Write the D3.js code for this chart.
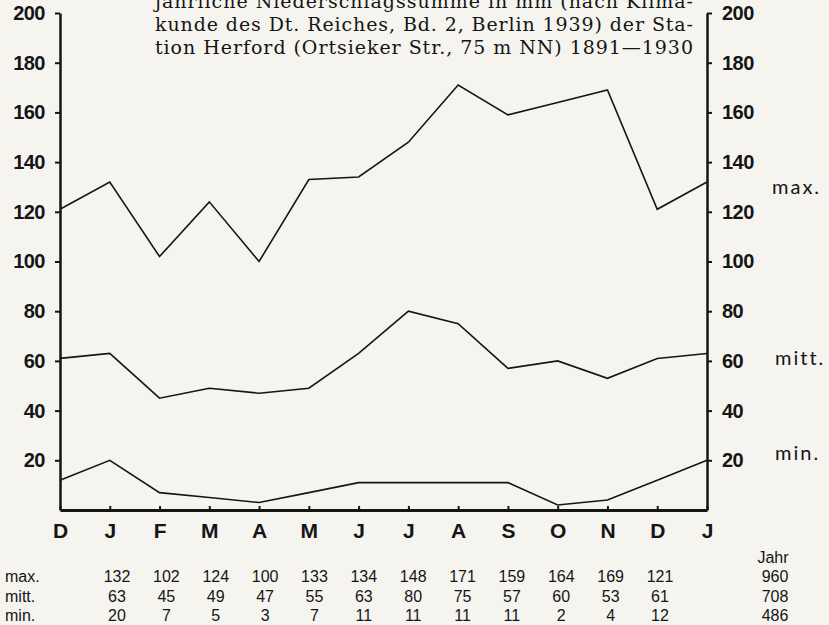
<!DOCTYPE html>
<html>
<head>
<meta charset="utf-8">
<script src="https://cdn.jsdelivr.net/npm/d3@7"></script>
<style>
  body { margin: 0; background: #f6f4ef; }
  svg { display: block; }
</style>
</head>
<body>
<svg></svg>
<script>
// month labels along the x axis (Dec .. Jan)
var months = ["D", "J", "F", "M", "A", "M", "J", "J", "A", "S", "O", "N", "D", "J"];
// curves as drawn in the picture
var lineMax  = [121, 132, 102, 124, 100, 133, 134, 148, 171, 159, 164, 169, 121, 132];
var lineMitt = [61, 63, 45, 49, 47, 49, 63, 80, 75, 57, 60, 53, 61, 63];
var lineMin  = [12, 20, 7, 5, 3, 7, 11, 11, 11, 11, 2, 4, 12, 20];
// table below the chart (Jan .. Dec, then year)
var rowNames = ["max.", "mitt.", "min."];
var tabMax  = [132, 102, 124, 100, 133, 134, 148, 171, 159, 164, 169, 121];
var tabMitt = [63, 45, 49, 47, 55, 63, 80, 75, 57, 60, 53, 61];
var tabMin  = [20, 7, 5, 3, 7, 11, 11, 11, 11, 2, 4, 12];
var jahr = [960, 708, 486];
var yTicks = [20, 40, 60, 80, 100, 120, 140, 160, 180, 200];
var titleLines = [
  "jährliche Niederschlagssumme in mm (nach Klima-",
  "kunde des Dt. Reiches, Bd. 2, Berlin 1939) der Sta-",
  "tion Herford (Ortsieker Str., 75 m NN) 1891—1930"
];

var svgWidth = 829, svgHeight = 625;
var svg = d3.select("svg")
    .attr("width", svgWidth)
    .attr("height", svgHeight);

var x = d3.scalePoint()
    .domain(d3.range(months.length))
    .range([60, 707]);

var y = d3.scaleLinear()
    .domain([0, 200])
    .range([510, 13]);

var ink = "#151515";
var labelFont = "'Liberation Sans', Arial, sans-serif";

// title, clipped at the top like the scan
svg.selectAll("text.title")
    .data(titleLines)
    .enter()
    .append("text")
    .attr("class", "title")
    .attr("x", 155)
    .attr("y", (d, i) => 8 + i * 23)
    .attr("textLength", 538)
    .attr("lengthAdjust", "spacing")
    .attr("font-family", "'DejaVu Serif', 'Liberation Serif', serif")
    .attr("font-size", 19)
    .attr("fill", ink)
    .text(d => d);

// left axis
var left = svg.append("g")
    .attr("transform", "translate(" + x(0) + ",0)")
    .call(d3.axisLeft(y).tickValues(yTicks).tickSize(5).tickSizeOuter(0).tickPadding(10));

// right axis
var right = svg.append("g")
    .attr("transform", "translate(" + x(months.length - 1) + ",0)")
    .call(d3.axisRight(y).tickValues(yTicks).tickSize(5).tickSizeOuter(0).tickPadding(10));

[left, right].forEach(function (g) {
  g.select(".domain").attr("stroke", ink).attr("stroke-width", 2.5);
  g.selectAll(".tick line").attr("stroke", ink).attr("stroke-width", 2);
  g.selectAll(".tick text")
      .attr("fill", ink)
      .attr("font-family", labelFont)
      .attr("font-weight", "bold")
      .attr("font-size", 20)
      .attr("letter-spacing", -0.5);
});

// bottom axis with month letters
var bottom = svg.append("g")
    .attr("transform", "translate(0," + y(0) + ")")
    .call(d3.axisBottom(x).tickSize(-4).tickSizeOuter(0).tickPadding(13).tickFormat(i => months[i]));

bottom.select(".domain").attr("stroke", ink).attr("stroke-width", 3);
bottom.selectAll(".tick line").attr("stroke", ink).attr("stroke-width", 2);
bottom.selectAll(".tick text")
    .attr("fill", ink)
    .attr("font-family", labelFont)
    .attr("font-weight", "bold")
    .attr("font-size", 21);

// the three curves
var line = d3.line()
    .x((d, i) => x(i))
    .y(d => y(d));

svg.selectAll("path.curve")
    .data([lineMax, lineMitt, lineMin])
    .enter()
    .append("path")
    .attr("class", "curve")
    .attr("d", line)
    .attr("fill", "none")
    .attr("stroke", ink)
    .attr("stroke-width", 1.6)
    .attr("stroke-linejoin", "miter");

// curve names at the right edge
var curveNames = [["max.", 130, 772], ["mitt.", 61, 775], ["min.", 23, 775]];
svg.selectAll("text.curveName")
    .data(curveNames)
    .enter()
    .append("text")
    .attr("class", "curveName")
    .attr("x", d => d[2])
    .attr("y", d => y(d[1]))
    .attr("dy", "0.35em")
    .attr("font-family", "Lato, 'DejaVu Sans', sans-serif")
    .attr("font-size", 20)
    .attr("letter-spacing", 2)
    .attr("fill", ink)
    .text(d => d[0]);

// table
var colX = d3.scalePoint()
    .domain(d3.range(12))
    .range([117, 660]);

var rows = [tabMax, tabMitt, tabMin];
var rowY = [582, 602, 621];

svg.selectAll("text.rowName")
    .data(rowNames)
    .enter()
    .append("text")
    .attr("class", "rowName")
    .attr("x", 5)
    .attr("y", (d, i) => rowY[i])
    .attr("font-family", labelFont)
    .attr("font-size", 16)
    .attr("fill", ink)
    .text(d => d);

rows.forEach(function (row, r) {
  svg.selectAll("text.val" + r)
      .data(row)
      .enter()
      .append("text")
      .attr("class", "val" + r)
      .attr("x", (d, i) => colX(i))
      .attr("y", rowY[r])
      .attr("text-anchor", "middle")
      .attr("font-family", labelFont)
      .attr("font-size", 16)
      .attr("fill", ink)
      .text(d => d);
});

svg.append("text")
    .attr("x", 773)
    .attr("y", 563)
    .attr("text-anchor", "middle")
    .attr("font-family", labelFont)
    .attr("font-size", 16)
    .attr("fill", ink)
    .text("Jahr");

svg.selectAll("text.jahr")
    .data(jahr)
    .enter()
    .append("text")
    .attr("class", "jahr")
    .attr("x", 775)
    .attr("y", (d, i) => rowY[i])
    .attr("text-anchor", "middle")
    .attr("font-family", labelFont)
    .attr("font-size", 16)
    .attr("fill", ink)
    .text(d => d);
</script>
</body>
</html>
